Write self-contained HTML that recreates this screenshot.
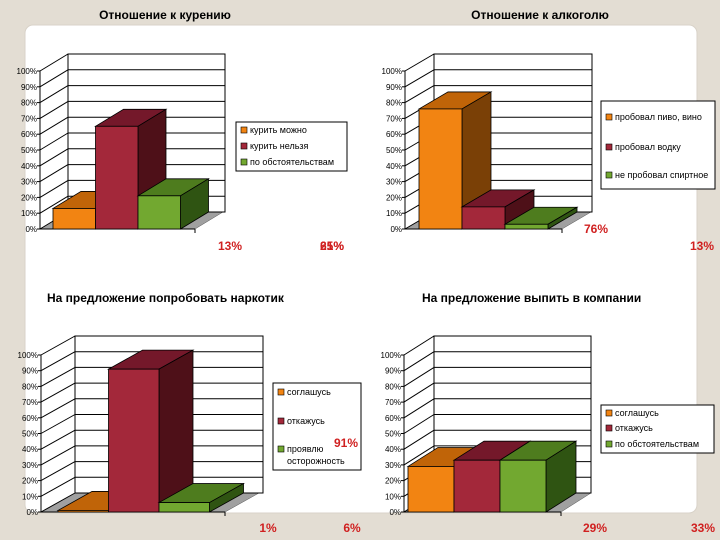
<!DOCTYPE html>
<html><head><meta charset="utf-8">
<style>
body{margin:0;width:720px;height:540px;background:#e3ddd3;overflow:hidden;font-family:"Liberation Sans","DejaVu Sans",sans-serif;}
svg{position:absolute;left:0;top:0}
</style></head>
<body>
<svg width="720" height="540" id="s">
<rect x="25" y="25" width="672" height="488" rx="8" fill="#fff" stroke="#d8d2c8"/>
<text x="165" y="19" text-anchor="middle" font-size="12" font-weight="bold">Отношение к курению</text>
<text x="540" y="19" text-anchor="middle" font-size="12" font-weight="bold">Отношение к алкоголю</text>
<text x="47" y="302" font-size="12" font-weight="bold">На предложение попробовать наркотик</text>
<text x="422" y="302" font-size="12" font-weight="bold">На предложение выпить в компании</text>
<g id="g"></g>
</svg>
<script>
const ticks=["0%","10%","20%","30%","40%","50%","60%","70%","80%","90%","100%"];
const smokingCats=["курить можно","курить нельзя","по обстоятельствам"];
const smokingVals=[13,65,21];
const alcoholCats=["пробовал пиво, вино","пробовал водку","не пробовал спиртное"];
const alcoholVals=[76,14,3];
const drugsCats=["соглашусь","откажусь","проявлю осторожность"];
const drugsVals=[1,91,6];
const companyCats=["соглашусь","откажусь","по обстоятельствам"];
const companyVals=[29,33,33];
const labelsTop=["13%","65%","21%","76%","13%"];
const labelsBottom=["1%","6%","91%","29%","33%"];

const NS="http://www.w3.org/2000/svg";
const G=document.getElementById('g');
function mk(t,a,p){const e=document.createElementNS(NS,t);for(const k in a)e.setAttribute(k,a[k]);(p||G).appendChild(e);return e;}
const COL=[["#f28412","#c06408","#7a4006"],["#a3283a","#74182a","#4e1018"],["#72a830","#4e7c1e","#2f5412"]];
function chart(name,c,vals,cats,leg){
  const g=mk('g',{});
  
  
  const y=v=>c.y0-(c.y0-c.y100)*v/100;
  // back wall
  const bw=mk('rect',{x:c.x0+c.dx,y:y(100)+c.dy,width:c.bw,height:c.y0-c.y100,fill:'#fff',stroke:'#000','stroke-width':1},g);
  
  // floor
  const fl=mk('polygon',{points:`${c.x0},${c.y0} ${c.xr},${c.y0} ${c.xr+c.dx},${c.y0+c.dy} ${c.x0+c.dx},${c.y0+c.dy}`,fill:'#a0a0a0',stroke:'#555','stroke-width':0.5},g);
  
  ticks.forEach((t,i)=>{
    const v=i*10,yy=y(v);
    const gl=mk('line',{x1:c.x0+c.dx,y1:yy+c.dy,x2:c.x0+c.dx+c.bw,y2:yy+c.dy,stroke:'#000','stroke-width':1},g);
    
    mk('line',{x1:c.x0,y1:yy,x2:c.x0+c.dx,y2:yy+c.dy,stroke:'#000','stroke-width':1},g);
    mk('line',{x1:c.x0-3,y1:yy,x2:c.x0,y2:yy,stroke:'#000'},g);
    const tx=mk('text',{x:c.x0-3,y:yy+3,'text-anchor':'end','font-size':8},g);
    tx.textContent=t;
    
  });
  mk('line',{x1:c.x0,y1:c.y0,x2:c.x0,y2:c.y100,stroke:'#000'},g);
  mk('line',{x1:c.x0,y1:c.y0,x2:c.xr,y2:c.y0,stroke:'#000'},g);
  mk('line',{x1:c.xr,y1:c.y0,x2:c.xr,y2:c.y0+4,stroke:'#000'},g);
  vals.forEach((v,i)=>{
    const x=c.bx+i*c.bwid,w=c.bwid,yt=y(v),col=COL[i];
    const b=mk('g',{},g);
    
    mk('polygon',{points:`${x},${yt} ${x+w},${yt} ${x+w+c.dx},${yt+c.dy} ${x+c.dx},${yt+c.dy}`,fill:col[1],stroke:'#000','stroke-width':0.8},b);
    mk('polygon',{points:`${x+w},${yt} ${x+w+c.dx},${yt+c.dy} ${x+w+c.dx},${c.y0+c.dy} ${x+w},${c.y0}`,fill:col[2],stroke:'#000','stroke-width':0.8},b);
    mk('rect',{x:x,y:yt,width:w,height:c.y0-yt,fill:col[0],stroke:'#000','stroke-width':0.8},b);
  });
  // legend
  const lg=mk('g',{},g);
  
  mk('rect',{x:leg.x,y:leg.y,width:leg.w,height:leg.h,fill:'#fff',stroke:'#000'},lg);
  cats.forEach((t,i)=>{
    const yy=leg.ys[i];
    const e=mk('g',{},lg);
    
    mk('rect',{x:leg.x+5,y:yy-6,width:6,height:6,fill:COL[i][0],stroke:'#000','stroke-width':0.6},e);
    const lines=leg.wrap&&leg.wrap[i]?leg.wrap[i]:[t];
    lines.forEach((ln,j)=>{const tx=mk('text',{x:leg.x+14,y:yy+j*12,'font-size':9},e);tx.textContent=ln;});
  });
}
chart('chart-smoking',{x0:40,y0:229,y100:71,dx:28,dy:-17,bw:157,xr:195,bx:53,bwid:42.5},smokingVals,smokingCats,{x:236,y:122,w:111,h:49,ys:[133,149,165]});
chart('chart-alcohol',{x0:405,y0:229,y100:71,dx:29,dy:-17,bw:158,xr:562,bx:419,bwid:43},alcoholVals,alcoholCats,{x:601,y:101,w:114,h:88,ys:[120,150,178]});
chart('chart-drugs',{x0:41,y0:512,y100:355,dx:34,dy:-19,bw:188,xr:225,bx:58,bwid:50.5},drugsVals,drugsCats,{x:273,y:383,w:88,h:87,ys:[395,424,452],wrap:[null,null,["проявлю","осторожность"]]});
chart('chart-company',{x0:404,y0:512,y100:355,dx:30,dy:-19,bw:157,xr:561,bx:408,bwid:46},companyVals,companyCats,{x:601,y:405,w:113,h:48,ys:[416,431,447]});
function lab(t,x,y,n){const e=mk('text',{x:x,y:y,'font-size':12,fill:'#d02020','font-weight':'bold','text-anchor':'middle'});e.textContent=t;
}
lab(labelsTop[0],230,250,'value-label');
lab(labelsTop[1],332,250,'value-label');
lab(labelsTop[2],332,250,'value-label');
lab(labelsTop[3],596,233,'value-label');
lab(labelsTop[4],702,250,'value-label');
lab(labelsBottom[0],268,532,'value-label');
lab(labelsBottom[1],352,532,'value-label');
lab(labelsBottom[2],346,447,'value-label');
lab(labelsBottom[3],595,532,'value-label');
lab(labelsBottom[4],703,532,'value-label');
</script>
</body></html>
